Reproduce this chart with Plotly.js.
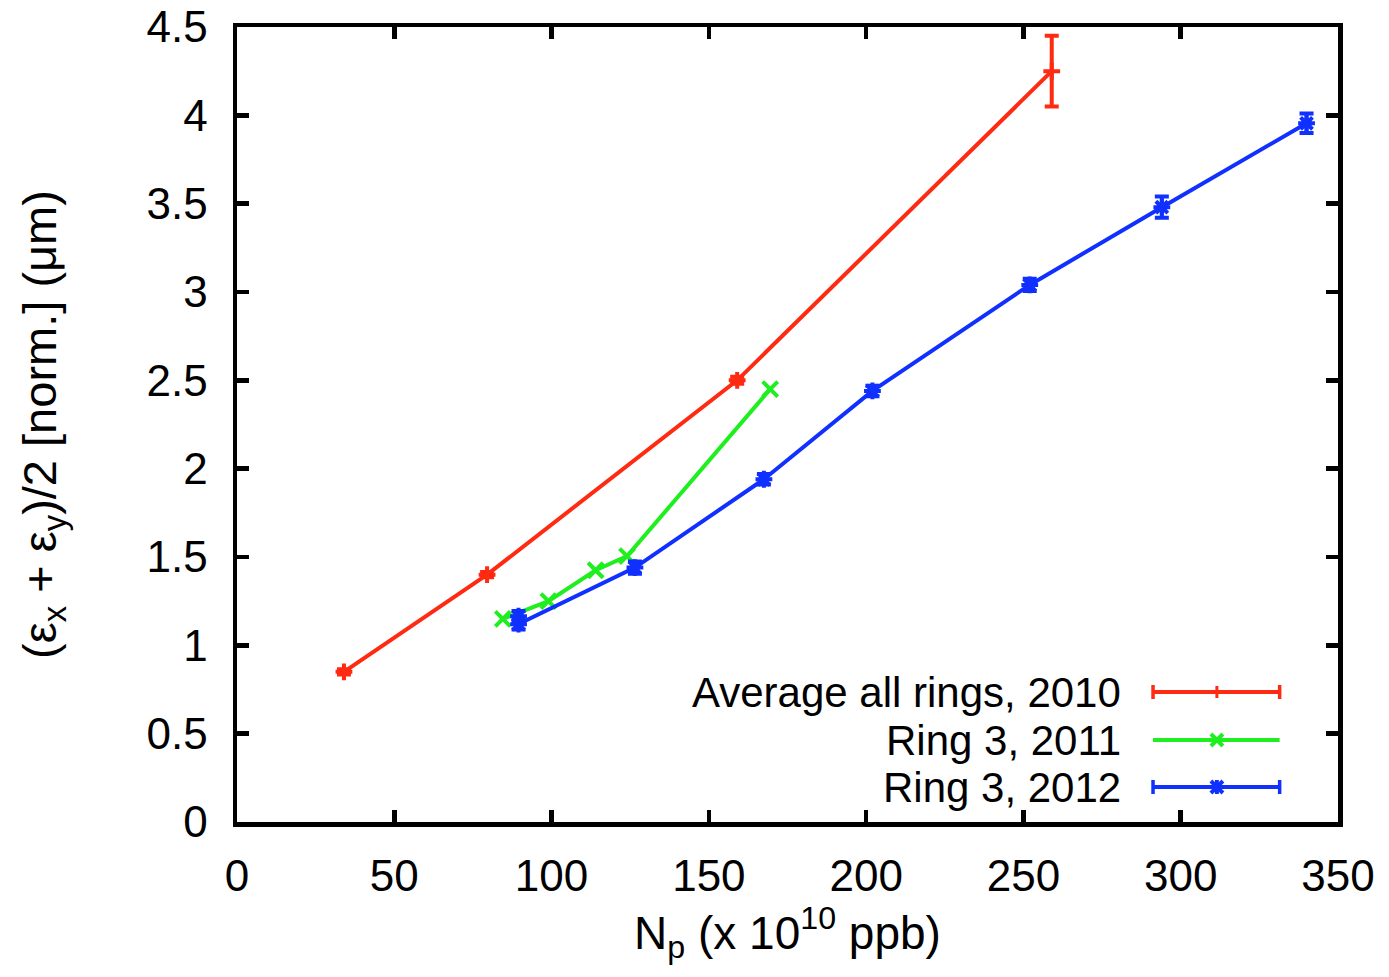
<!DOCTYPE html>
<html>
<head>
<meta charset="utf-8">
<script src="https://cdn.plot.ly/plotly-3.0.1.min.js"></script>
<style>html,body{margin:0;padding:0;background:#fff;}#chart{width:1389px;height:977px;}</style>
</head>
<body>
<div id="chart"></div>
<script>
// ---- data ----
const redX = [34, 79.5, 159, 259];
const redY = [0.85, 1.40, 2.50, 4.25];
const redErr = [0.015, 0.015, 0.02, 0.20];

const greenX = [84.5, 99, 114, 124, 169.5];
const greenY = [1.15, 1.25, 1.425, 1.505, 2.45];

const blueX = [89.5, 89.5, 126.5, 167.5, 202, 252, 294, 340];
const blueY = [1.165, 1.12, 1.44, 1.94, 2.44, 3.04, 3.48, 3.955];
const blueErr = [0.03, 0.03, 0.035, 0.03, 0.03, 0.035, 0.06, 0.055];

const seriesNames = ["Average all rings, 2010", "Ring 3, 2011", "Ring 3, 2012"];
const xTicks = [0, 50, 100, 150, 200, 250, 300, 350];
const yTicks = [0, 0.5, 1, 1.5, 2, 2.5, 3, 3.5, 4, 4.5];

const RED = '#ff2a12', GREEN = '#1fee1f', BLUE = '#1030ff';
const FONT = 'Liberation Sans, Arial, Helvetica, sans-serif';

const traces = [
  {x: redX, y: redY, name: seriesNames[0], mode: 'lines+markers', type: 'scatter',
   line: {color: RED, width: 4},
   marker: {symbol: 'cross-thin-open', size: 12, color: RED, line: {color: RED, width: 4}},
   error_y: {type: 'data', array: redErr, visible: true, color: RED, thickness: 4, width: 7}},
  {x: greenX, y: greenY, name: seriesNames[1], mode: 'lines+markers', type: 'scatter',
   line: {color: GREEN, width: 4},
   marker: {symbol: 'x-thin-open', size: 15, color: GREEN, line: {color: GREEN, width: 4}}},
  {x: blueX, y: blueY, name: seriesNames[2], mode: 'lines+markers', type: 'scatter',
   line: {color: BLUE, width: 4},
   marker: {symbol: 'asterisk-open', size: 14, color: BLUE, line: {color: BLUE, width: 4}},
   error_y: {type: 'data', array: blueErr, visible: true, color: BLUE, thickness: 4, width: 7}}
];

// ---- legend (drawn manually, symbol to the right of text) ----
const legX0 = 0.832, legX1 = 0.947, legXm = 0.890, legTextX = 0.805;
const legY = [0.1635, 0.1031, 0.044];
const legColors = [RED, GREEN, BLUE];
const annotations = [];
const shapes = [];
function pxLine(xa, ya, dx0, dy0, dx1, dy1, color, w) {
  shapes.push({type: 'line', xref: 'paper', yref: 'paper', xsizemode: 'pixel', ysizemode: 'pixel',
    xanchor: xa, yanchor: ya, x0: dx0, y0: dy0, x1: dx1, y1: dy1, line: {color: color, width: w}});
}
seriesNames.forEach((n, i) => {
  annotations.push({text: n, xref: 'paper', yref: 'paper', x: legTextX, y: legY[i],
    xanchor: 'right', yanchor: 'middle', showarrow: false, font: {family: FONT, size: 42, color: '#000'}});
  shapes.push({type: 'line', xref: 'paper', yref: 'paper', x0: legX0, x1: legX1, y0: legY[i], y1: legY[i],
    line: {color: legColors[i], width: 4}});
});
// red: caps + tick
pxLine(legX0, legY[0], 0, -7, 0, 7, RED, 3.5);
pxLine(legX1, legY[0], 0, -7, 0, 7, RED, 3.5);
pxLine(legXm, legY[0], 0, -6, 0, 6, RED, 3);
// green: x
pxLine(legXm, legY[1], -6, -6, 6, 6, GREEN, 4);
pxLine(legXm, legY[1], -6, 6, 6, -6, GREEN, 4);
// blue: caps + asterisk
pxLine(legX0, legY[2], 0, -7, 0, 7, BLUE, 3.5);
pxLine(legX1, legY[2], 0, -7, 0, 7, BLUE, 3.5);
pxLine(legXm, legY[2], -6, -6, 6, 6, BLUE, 4);
pxLine(legXm, legY[2], -6, 6, 6, -6, BLUE, 4);
pxLine(legXm, legY[2], 0, -7, 0, 7, BLUE, 4);

const axisCommon = {
  showline: true, linecolor: '#000', linewidth: 4.5, mirror: 'allticks',
  ticks: 'inside', ticklen: 12, tickwidth: 4.5, tickcolor: '#000',
  showgrid: false, zeroline: false,
  tickfont: {family: FONT, size: 44, color: '#000'}
};

const layout = {
  width: 1389, height: 977,
  margin: {l: 237, r: 51, t: 27, b: 155},
  paper_bgcolor: '#fff', plot_bgcolor: '#fff',
  showlegend: false,
  font: {family: FONT, color: '#000'},
  xaxis: Object.assign({}, axisCommon, {
    range: [0, 350], tickvals: xTicks, ticktext: xTicks.map(String),
    ticklabelstandoff: 12,
    title: {text: 'N<sub>p</sub> (x 10<sup>10</sup> ppb)', font: {family: FONT, size: 46}, standoff: 18}
  }),
  yaxis: Object.assign({}, axisCommon, {
    range: [0, 4.5], tickvals: yTicks, ticktext: yTicks.map(String),
    ticklabelstandoff: 16,
    title: {text: '(ε<sub>x</sub> + ε<sub>y</sub>)/2 [norm.] (μm)', font: {family: FONT, size: 47}, standoff: 76}
  }),
  annotations: annotations,
  shapes: shapes
};

Plotly.newPlot('chart', traces, layout, {displayModeBar: false, staticPlot: true});
</script>
</body>
</html>
